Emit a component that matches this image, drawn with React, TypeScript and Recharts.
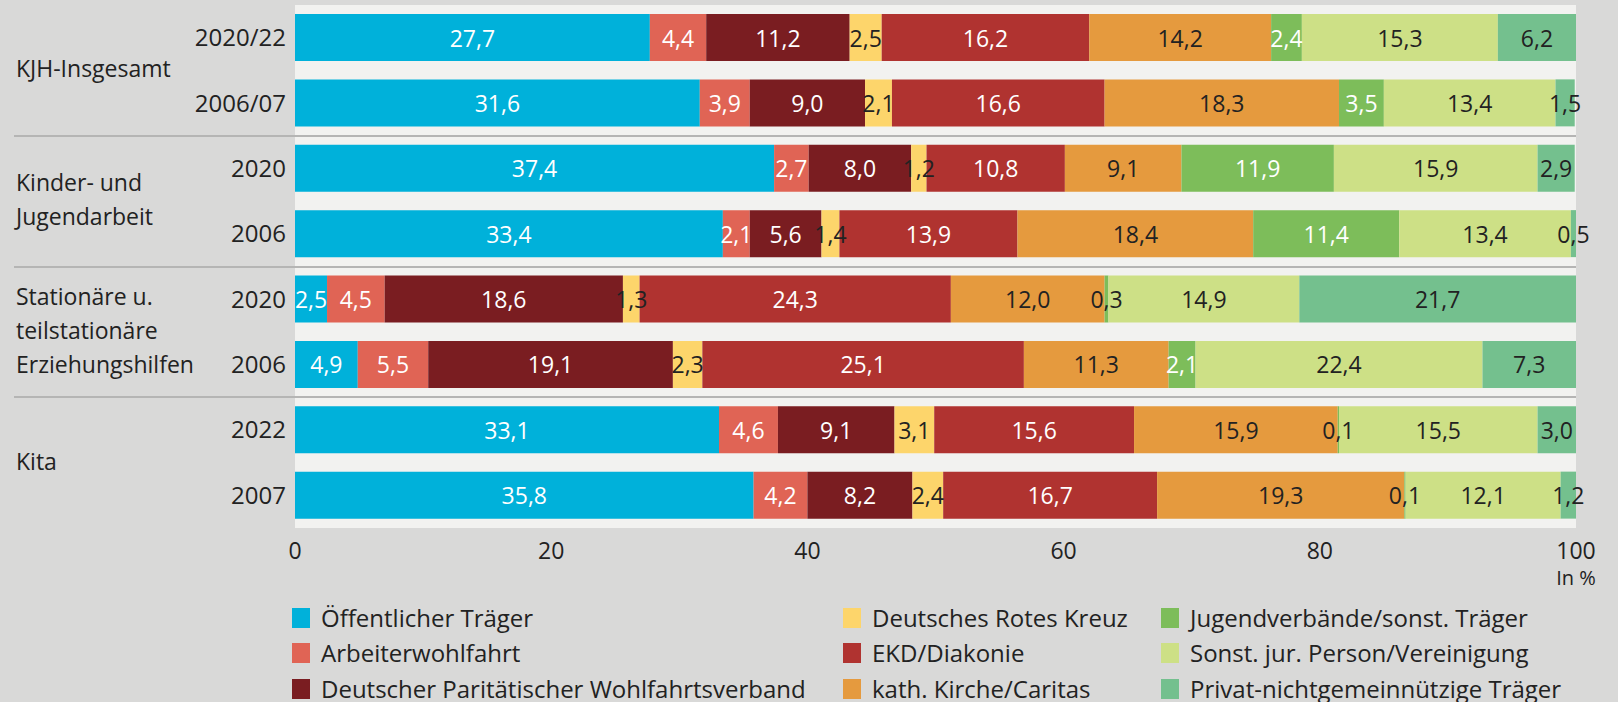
import React from "react";
import { BarChart, Bar, XAxis, YAxis, CartesianGrid, LabelList } from "recharts";

const years = ["2020/22", "2006/07", "2020", "2006", "2020", "2006", "2022", "2007"];
const groups = [
  { lines: ["KJH-Insgesamt"], from: 0 },
  { lines: ["Kinder- und", "Jugendarbeit"], from: 2 },
  { lines: ["Stationäre u.", "teilstationäre", "Erziehungshilfen"], from: 4 },
  { lines: ["Kita"], from: 6 },
];
const xTicks = [0, 20, 40, 60, 80, 100];

const oeffentlich = [27.7, 31.6, 37.4, 33.4, 2.5, 4.9, 33.1, 35.8];
const awo = [4.4, 3.9, 2.7, 2.1, 4.5, 5.5, 4.6, 4.2];
const paritaet = [11.2, 9.0, 8.0, 5.6, 18.6, 19.1, 9.1, 8.2];
const drk = [2.5, 2.1, 1.2, 1.4, 1.3, 2.3, 3.1, 2.4];
const diakonie = [16.2, 16.6, 10.8, 13.9, 24.3, 25.1, 15.6, 16.7];
const caritas = [14.2, 18.3, 9.1, 18.4, 12.0, 11.3, 15.9, 19.3];
const jugendverb = [2.4, 3.5, 11.9, 11.4, 0.3, 2.1, 0.1, 0.1];
const sonstJur = [15.3, 13.4, 15.9, 13.4, 14.9, 22.4, 15.5, 12.1];
const privat = [6.2, 1.5, 2.9, 0.5, 21.7, 7.3, 3.0, 1.2];

const series = [
  { key: "oeff", name: "Öffentlicher Träger", values: oeffentlich, color: "#00b1da", text: "#ffffff" },
  { key: "awo", name: "Arbeiterwohlfahrt", values: awo, color: "#e06455", text: "#ffffff" },
  { key: "dpw", name: "Deutscher Paritätischer Wohlfahrtsverband", values: paritaet, color: "#7a1d21", text: "#ffffff" },
  { key: "drk", name: "Deutsches Rotes Kreuz", values: drk, color: "#fdd56b", text: "#222222" },
  { key: "ekd", name: "EKD/Diakonie", values: diakonie, color: "#b03330", text: "#ffffff" },
  { key: "kath", name: "kath. Kirche/Caritas", values: caritas, color: "#e59a3e", text: "#222222" },
  { key: "jug", name: "Jugendverbände/sonst. Träger", values: jugendverb, color: "#7dbd5a", text: "#ffffff" },
  { key: "sjp", name: "Sonst. jur. Person/Vereinigung", values: sonstJur, color: "#cde086", text: "#222222" },
  { key: "priv", name: "Privat-nichtgemeinnützige Träger", values: privat, color: "#74c08e", text: "#222222" },
];

const data = years.map((y, i) => {
  const row: Record<string, number | string> = { id: String(i), year: y };
  series.forEach((s) => (row[s.key] = s.values[i]));
  return row;
});

const FONT = '"Open Sans", sans-serif';
const W = 1618;
const H = 702;
const PLOT_TOP = 5;
const PLOT_BOTTOM = 528;
const PLOT_LEFT = 295;
const PLOT_RIGHT = 1576;
const BAND = (PLOT_BOTTOM - PLOT_TOP) / years.length;

const fmt = (v: number) => v.toFixed(1).replace(".", ",");

function makeLabel(textColor: string) {
  return (props: any) => {
    const { x, y, width, height, value } = props;
    const fill = value < 1 ? "#222222" : textColor;
    return (
      <text
        x={x + width / 2}
        y={y + height / 2}
        textAnchor="middle"
        dominantBaseline="central"
        fill={fill}
        fontSize={23}
        fontFamily={FONT}
      >
        {fmt(value)}
      </text>
    );
  };
}

export default function App() {
  return (
    <div
      style={{
        position: "absolute",
        left: 0,
        top: 0,
        width: W,
        height: H,
        background: "#d9d9d8",
        fontFamily: FONT,
        color: "#222222",
      }}
    >
      <BarChart
        width={W}
        height={H}
        data={data}
        layout="vertical"
        margin={{ top: PLOT_TOP, right: W - PLOT_RIGHT, bottom: H - PLOT_BOTTOM - 30, left: 0 }}
        barSize={47}
      >
        <CartesianGrid fill="#f2f2f0" stroke="none" horizontal={false} vertical={false} />
        <XAxis
          type="number"
          domain={[0, 100]}
          ticks={xTicks}
          allowDataOverflow
          axisLine={false}
          tickLine={false}
          tickSize={0}
          tickMargin={15}
          height={30}
          tick={{ fill: "#222222", fontSize: 23, fontFamily: FONT }}
        />
        <YAxis
          type="category"
          dataKey="id"
          width={PLOT_LEFT}
          axisLine={false}
          tickLine={false}
          tickSize={0}
          tickMargin={9}
          tickFormatter={(v: string) => years[Number(v)]}
          tick={{ fill: "#222222", fontSize: 24, fontFamily: FONT }}
        />
        {series.map((s) => (
          <Bar key={s.key} dataKey={s.key} name={s.name} stackId="a" fill={s.color} isAnimationActive={false}>
            <LabelList dataKey={s.key} content={makeLabel(s.text)} />
          </Bar>
        ))}
      </BarChart>

      {[2, 4, 6].map((k) => (
        <div
          key={k}
          style={{
            position: "absolute",
            left: 14,
            width: PLOT_RIGHT - 14,
            top: PLOT_TOP + k * BAND - 1,
            height: 2,
            background: "#b5b5b4",
          }}
        />
      ))}

      {groups.map((g) => (
        <div
          key={g.lines[0]}
          style={{
            position: "absolute",
            left: 16,
            top: PLOT_TOP + (g.from + 1) * BAND - (g.lines.length * 34) / 2 - 2,
            fontSize: 23,
            lineHeight: "34px",
            whiteSpace: "nowrap",
          }}
        >
          {g.lines.map((l) => (
            <div key={l}>{l}</div>
          ))}
        </div>
      ))}

      <div
        style={{
          position: "absolute",
          left: PLOT_RIGHT - 40,
          width: 80,
          top: 566,
          fontSize: 20,
          lineHeight: "24px",
          textAlign: "center",
        }}
      >
        In %
      </div>

      <div
        style={{
          position: "absolute",
          left: 292,
          top: 600,
          display: "grid",
          gridTemplateColumns: "551px 318px 420px",
          gridAutoFlow: "column",
          gridTemplateRows: "repeat(3, 35.5px)",
          fontSize: 24,
          lineHeight: "26px",
        }}
      >
        {series.map((s) => (
          <div key={s.key} style={{ display: "flex", alignItems: "center", whiteSpace: "nowrap" }}>
            <span style={{ width: 18, height: 20, background: s.color, marginRight: 11, flex: "none" }} />
            <span>{s.name}</span>
          </div>
        ))}
      </div>
    </div>
  );
}
